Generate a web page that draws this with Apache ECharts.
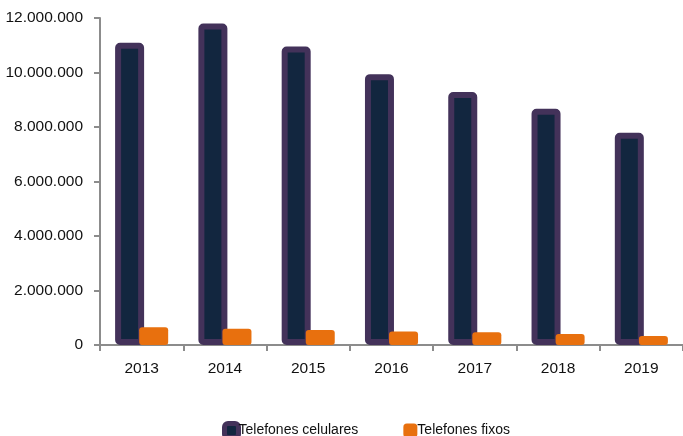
<!DOCTYPE html>
<html>
<head>
<meta charset="utf-8">
<script src="https://cdn.jsdelivr.net/npm/echarts@6/dist/echarts.min.js"></script>
<style>
html,body{margin:0;padding:0;background:#fff;}
#chart{width:683px;height:436px;}
</style>
</head>
<body>
<div id="chart"></div>
<script>
var categories = ['2013', '2014', '2015', '2016', '2017', '2018', '2019'];
var celulares = [11090000, 11800000, 10950000, 9940000, 9280000, 8670000, 7790000];
var fixos = [650000, 600000, 550000, 500000, 470000, 400000, 330000];
var seriesNames = ['Telefones celulares', 'Telefones fixos'];

var navy = '#12263f';
var purple = '#43325a';
var orange = '#e8700e';
var axisGray = '#8c8c8c';
var font = 'Liberation Sans, Arial, sans-serif';

function fmt(v) {
  return String(v).replace(/\B(?=(\d{3})+(?!\d))/g, '.');
}

var chart = echarts.init(document.getElementById('chart'));
chart.setOption({
  animation: false,
  backgroundColor: '#ffffff',
  grid: { left: 100, top: 18, width: 586, height: 327, containLabel: false },
  legend: {
    left: 222, top: 421, padding: 0,
    itemWidth: 14, itemHeight: 14, itemGap: 45,
    textStyle: { fontFamily: font, fontSize: 14, color: '#111', padding: [0, 0, 0, -5] },
    data: [
      { name: seriesNames[0], icon: 'roundRect', itemStyle: { color: navy, borderColor: purple, borderWidth: 5 } },
      { name: seriesNames[1], icon: 'roundRect', itemStyle: { color: orange, borderColor: orange, borderWidth: 0 } }
    ]
  },
  xAxis: {
    type: 'category',
    data: categories,
    boundaryGap: true,
    axisLine: { lineStyle: { color: axisGray, width: 2 } },
    axisTick: { show: true, alignWithLabel: false, length: 6, lineStyle: { color: axisGray, width: 2 } },
    axisLabel: { fontFamily: font, fontSize: 15.5, color: '#111', margin: 16 }
  },
  yAxis: {
    type: 'value',
    min: 0, max: 12000000, interval: 2000000,
    splitLine: { show: false },
    axisLine: { show: true, lineStyle: { color: axisGray, width: 2 } },
    axisTick: { show: true, length: 6, lineStyle: { color: axisGray, width: 2 } },
    axisLabel: { fontFamily: font, fontSize: 15.5, color: '#111', margin: 17, formatter: fmt }
  },
  series: [
    {
      name: seriesNames[0], type: 'bar', data: celulares,
      barWidth: 29, barGap: '-17%',
      itemStyle: { color: navy, borderColor: purple, borderWidth: 6, borderRadius: 2 }
    },
    {
      name: seriesNames[1], type: 'bar', data: fixos,
      barWidth: 29, barGap: '-17%',
      itemStyle: { color: orange, borderRadius: 3 }
    }
  ]
});
</script>
</body>
</html>
